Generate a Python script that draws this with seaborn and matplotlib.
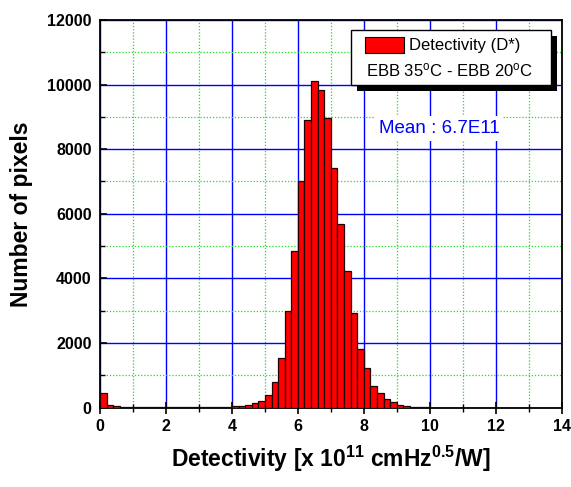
import numpy as np
import pandas as pd
import matplotlib
matplotlib.use('Agg')
import matplotlib.pyplot as plt
import seaborn as sns
from matplotlib.patches import Rectangle
from matplotlib.ticker import MultipleLocator

# histogram: 0.2 wide bins starting at 0
bin_width = 0.2
bin_start = [round(i * bin_width, 1) for i in range(50)]
counts = [450, 75, 45, 30, 25, 20, 15, 12, 10, 8,
          6, 5, 5, 5, 5, 6, 8, 10, 15, 25,
          40, 62, 85, 137, 220, 390, 790, 1550, 2990, 4860,
          7030, 8890, 10120, 9820, 8970, 7410, 5680, 4220, 2920, 1830,
          1240, 670, 465, 255, 160, 70, 35, 20, 10, 5]

legend_labels = ['Detectivity (D*)', r'EBB 35$^{\mathrm{o}}$C - EBB 20$^{\mathrm{o}}$C']
mean_text = 'Mean : 6.7E11'

df = pd.DataFrame({'D': np.array(bin_start) + bin_width / 2, 'n': counts})

sns.set_style('white')
plt.rcParams['font.family'] = ['Liberation Sans', 'DejaVu Sans']
plt.rcParams['text.color'] = 'black'
plt.rcParams['axes.labelcolor'] = 'black'
plt.rcParams['xtick.color'] = 'black'
plt.rcParams['ytick.color'] = 'black'
plt.rcParams['mathtext.fontset'] = 'custom'
plt.rcParams['mathtext.rm'] = 'Liberation Sans'
plt.rcParams['mathtext.bf'] = 'Liberation Sans:bold'
plt.rcParams['mathtext.it'] = 'Liberation Sans:italic'

fig = plt.figure(figsize=(5.71, 4.87), dpi=100)
ax = fig.add_axes([0.175, 0.163, 0.809, 0.796])

edges = [round(i * bin_width, 1) for i in range(51)]
sns.histplot(data=df, x='D', weights='n', bins=edges, color='red',
             edgecolor='#200000', linewidth=0.9, alpha=1, ax=ax, zorder=3)

ax.set_xlim(0, 14)
ax.set_ylim(0, 12000)
ax.xaxis.set_major_locator(MultipleLocator(2))
ax.xaxis.set_minor_locator(MultipleLocator(1))
ax.yaxis.set_major_locator(MultipleLocator(2000))
ax.yaxis.set_minor_locator(MultipleLocator(1000))

ax.grid(which='major', color='#0000ff', linewidth=1.0, linestyle='-', zorder=0)
ax.grid(which='minor', color='#22dd22', linewidth=0.9, linestyle=(0, (1, 1.5)), zorder=0)
ax.set_axisbelow(True)

for s in ax.spines.values():
    s.set_color('black')
    s.set_linewidth(1.3)
    s.set_visible(True)

ax.tick_params(axis='x', which='major', direction='inout', length=9, width=1.2,
               labelsize=11.5, pad=4, bottom=True)
ax.tick_params(axis='x', which='minor', direction='inout', length=6, width=1.0, bottom=True)
ax.tick_params(axis='y', which='major', direction='in', length=5, width=1.2,
               labelsize=11.5, pad=6, left=True)
ax.tick_params(axis='y', which='minor', direction='in', length=3.5, width=1.0, left=True)
for lab in ax.get_xticklabels() + ax.get_yticklabels():
    lab.set_fontweight('bold')

ax.set_xlabel(r'Detectivity [x 10$^{\mathbf{11}}$ cmHz$^{\mathbf{0.5}}$/W]',
              fontsize=16.5, fontweight='bold', labelpad=7)
ax.set_ylabel('Number of pixels', fontsize=16.5, fontweight='bold', labelpad=10)

# legend box drawn by hand (Origin style: box with a solid black shadow)
tr = ax.transAxes
ax.add_patch(Rectangle((0.556, 0.817), 0.433, 0.142, transform=tr, facecolor='black',
                       edgecolor='none', zorder=5, clip_on=False))
ax.add_patch(Rectangle((0.543, 0.832), 0.433, 0.142, transform=tr, facecolor='white',
                       edgecolor='black', linewidth=1.0, zorder=6, clip_on=False))
ax.add_patch(Rectangle((0.574, 0.916), 0.084, 0.040, transform=tr, facecolor='red',
                       edgecolor='black', linewidth=0.8, zorder=7, clip_on=False))
ax.text(0.668, 0.923, legend_labels[0], transform=tr, fontsize=12,
        ha='left', va='baseline', zorder=7)
ax.text(0.576, 0.855, legend_labels[1], transform=tr, fontsize=12,
        ha='left', va='baseline', zorder=7)

ax.text(0.734, 0.708, mean_text, transform=tr, fontsize=13.5,
        color='#0000ff', ha='center', va='baseline', zorder=4,
        bbox=dict(facecolor='white', edgecolor='none', pad=3))

fig.savefig('out.png', dpi=100)
